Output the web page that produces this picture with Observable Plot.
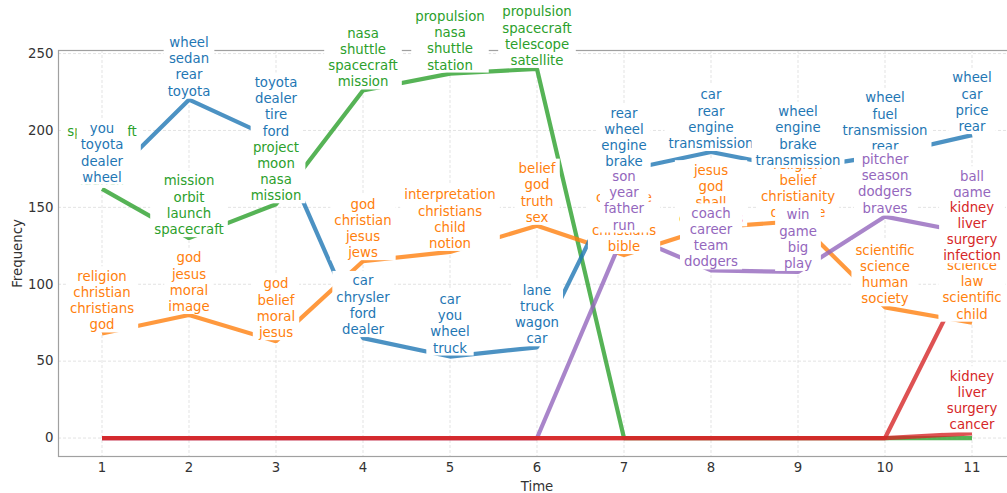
<!DOCTYPE html>
<html><head><meta charset="utf-8">
<script src="https://cdn.jsdelivr.net/npm/d3@7"></script>
<script src="https://cdn.jsdelivr.net/npm/@observablehq/plot@0.6"></script>
<style>body{margin:0;background:#fff;} svg{font-family:"DejaVu Sans";}</style>
</head><body><div id="chart"></div>
<script>
const times = [1,2,3,4,5,6,7,8,9,10,11];
const yTicks = [0,50,100,150,200,250];
const topicNames = ["space","religion","autos","baseball","medicine-infection","medicine-cancer"];
const topicColors = ["#2ca02c","#ff7f0e","#1f77b4","#9467bd","#d62728","#d62728"];

const spaceFreq     = [162,130,152,226,237,240,0,0,0,0,0];
const religionFreq  = [68,80,63,115,121,138,119,137,141,85,75];
const autosFreq     = [164,220,194,65,53,59,174,186,175,184,197];
const baseballFreq  = [0,0,0,0,0,0,133,109,108,144,133];
const infectionFreq = [0,0,0,0,0,0,0,0,0,0,113];
const cancerFreq    = [0,0,0,0,0,0,0,0,0,0,3];

const spaceWords = [
  "spacecraft\nnasa\norbit\nlaunch","mission\norbit\nlaunch\nspacecraft","project\nmoon\nnasa\nmission",
  "nasa\nshuttle\nspacecraft\nmission","propulsion\nnasa\nshuttle\nstation","propulsion\nspacecraft\ntelescope\nsatellite",
  null,null,null,null,null];
const religionWords = [
  "religion\nchristian\nchristians\ngod","god\njesus\nmoral\nimage","god\nbelief\nmoral\njesus",
  "god\nchristian\njesus\njews","interpretation\nchristians\nchild\nnotion","belief\ngod\ntruth\nsex",
  "creature\nfaith\nchristians\nbible","jesus\ngod\nshall\nchristians","religion\nbelief\nchristianity\ndoctrine",
  "scientific\nscience\nhuman\nsociety","science\nlaw\nscientific\nchild"];
const autosWords = [
  "you\ntoyota\ndealer\nwheel","wheel\nsedan\nrear\ntoyota","toyota\ndealer\ntire\nford",
  "car\nchrysler\nford\ndealer","car\nyou\nwheel\ntruck","lane\ntruck\nwagon\ncar",
  "rear\nwheel\nengine\nbrake","car\nrear\nengine\ntransmission","wheel\nengine\nbrake\ntransmission",
  "wheel\nfuel\ntransmission\nrear","wheel\ncar\nprice\nrear"];
const baseballWords = [
  null,null,null,null,null,null,
  "son\nyear\nfather\nrun","coach\ncareer\nteam\ndodgers","win\ngame\nbig\nplay",
  "pitcher\nseason\ndodgers\nbraves","ball\ngame\nteam\nseason"];
const infectionWords = [null,null,null,null,null,null,null,null,null,null,"kidney\nliver\nsurgery\ninfection"];
const cancerWords = [null,null,null,null,null,null,null,null,null,null,"kidney\nliver\nsurgery\ncancer"];

const freqs = [spaceFreq, religionFreq, autosFreq, baseballFreq, infectionFreq, cancerFreq];
const words = [spaceWords, religionWords, autosWords, baseballWords, infectionWords, cancerWords];

const rows = [];
topicNames.forEach((name, i) => {
  times.forEach((t, j) => rows.push({topic: name, time: t, freq: freqs[i][j], words: words[i][j]}));
});

const plot = Plot.plot({
  width: 1007, height: 493,
  marginLeft: 58, marginRight: -8, marginTop: 50, marginBottom: 37,
  x: {domain: [0.5, 11.5]},
  y: {domain: [-12, 252]},
  color: {domain: topicNames, range: topicColors},
  style: {fontFamily: "DejaVu Sans", fontSize: "13.3px", color: "#333", background: "#fff", overflow: "hidden"},
  marks: [
    Plot.gridX(times, {stroke: "#dcdcdc", strokeOpacity: 1, strokeDasharray: "3,2", strokeWidth: 0.8}),
    Plot.gridY(yTicks, {stroke: "#dcdcdc", strokeOpacity: 1, strokeDasharray: "3,2", strokeWidth: 0.8}),
    Plot.frame({stroke: "#a0a0a0", strokeWidth: 1.2}),
    Plot.axisX(times, {tickSize: 0, tickPadding: 6, fontSize: 13.3, label: "Time", labelAnchor: "center", labelArrow: "none", labelOffset: 34}),
    Plot.axisY(yTicks, {tickSize: 0, tickPadding: 5, fontSize: 13.3, label: "Frequency", labelAnchor: "center", labelArrow: "none", labelOffset: 46}),
    Plot.line(rows, {x: "time", y: "freq", z: "topic", stroke: "topic", strokeWidth: 4.2, strokeOpacity: 0.8, strokeLinecap: "butt", strokeLinejoin: "miter"}),
    Plot.text(rows.filter(d => d.words), {x: "time", y: "freq", text: "words", fill: "topic", lineAnchor: "bottom", lineHeight: 1.22, fontSize: 13.3, dy: -4, className: "topiclabels"})
  ]
});
document.getElementById("chart").append(plot);

const NS = "http://www.w3.org/2000/svg";
const svgRoot = plot.tagName.toLowerCase() === "svg" ? plot : plot.querySelector("svg");
let labelTexts = svgRoot.querySelectorAll(".topiclabels text");
if (!labelTexts.length) labelTexts = svgRoot.querySelectorAll('g[aria-label="text"] text');
labelTexts.forEach(t => {
  const b = t.getBBox();
  const r = document.createElementNS(NS, "rect");
  r.setAttribute("x", b.x - 4);
  r.setAttribute("y", b.y - 2.5);
  r.setAttribute("width", b.width + 8);
  r.setAttribute("height", b.height + 2.5);
  r.setAttribute("fill", "white");
  r.setAttribute("stroke", "none");
  const tr = t.getAttribute("transform");
  if (tr) r.setAttribute("transform", tr);
  t.parentNode.insertBefore(r, t);
});
</script>
</body></html>
